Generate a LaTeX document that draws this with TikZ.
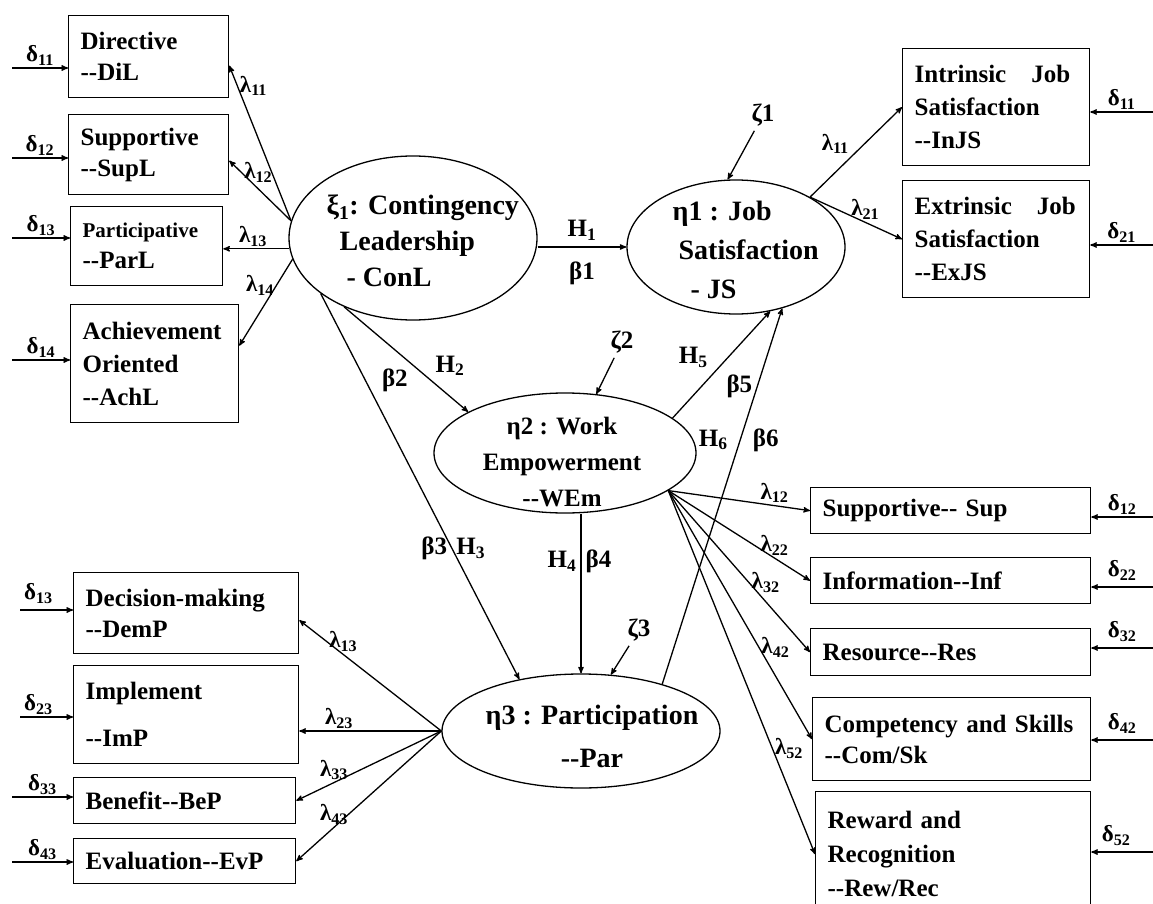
\documentclass[tikz,border=0pt]{standalone}
\usepackage{fontspec}
\setmainfont{Liberation Serif}
\usetikzlibrary{shapes.geometric, arrows}
\tikzset{
    >=stealth', % small filled arrow heads
    obs/.style={draw, rectangle, anchor=north west, align=left, inner xsep=12pt, inner ysep=0pt,
        font=\bfseries\fontsize{25}{31}\selectfont}, % observed variables
    lat/.style={draw, ellipse, inner sep=0pt}, % latent variables
    lattext/.style={inner sep=0pt}, % text inside the latent variables
    coef/.style={inner sep=2pt, font=\bfseries\fontsize{23}{23}\selectfont}, % lambda and delta labels
    hyp/.style={inner sep=4pt, font=\bfseries\fontsize{25}{25}\selectfont}, % H and beta labels
}

\begin{document}
\begin{tikzpicture}[x=1pt, y=-1pt, line width=1.3pt, ->]
    \useasboundingbox (0,0) rectangle (1153,904);

    % latent variables
    \node[lat, minimum width=248pt, minimum height=164pt] (conl) at (413,238) {};
    \node[lat, minimum width=218pt, minimum height=134pt] (js) at (736,247) {};
    \node[lat, minimum width=262pt, minimum height=120pt] (wem) at (565,453) {};
    \node[lat, minimum width=278pt, minimum height=114pt] (par) at (581,731) {};
    \node[lattext, anchor=west, align=left, font=\bfseries\fontsize{28}{36}\selectfont] (conltext) at (326,241)
        {ξ\textsubscript{1}: Contingency\\\hspace*{13pt}Leadership\\\hspace*{20pt}- ConL};
    \node[lattext, anchor=west, align=left, font=\bfseries\fontsize{28}{39}\selectfont] (jstext) at (672,250)
        {η1 : Job\\\hspace*{6pt}Satisfaction\\\hspace*{18pt}- JS};
    \node[lattext, align=center, font=\bfseries\fontsize{25}{36}\selectfont] (wemtext) at (562,462)
        {η2 : Work\\Empowerment\\-{}-WEm};
    \node[lattext, align=center, font=\bfseries\fontsize{28}{43}\selectfont] (partext) at (592,736)
        {η3 : Participation\\-{}-Par};

    % observed variables
    \node[obs, text width=136pt, minimum height=82pt] (dil) at (68,15) {Directive\\-{}-DiL};
    \node[obs, text width=136pt, minimum height=80pt] (supl) at (68,114) {Supportive\\-{}-SupL};
    \node[obs, text width=128pt, minimum height=79pt] (parl) at (70,206) {{\fontsize{21}{31}\selectfont Participative}\\-{}-ParL};
    \node[obs, text width=144pt, minimum height=118pt, font=\bfseries\fontsize{25}{33}\selectfont] (achl) at (70,304) {Achievement\\Oriented\\-{}-AchL};
    \node[obs, text width=201pt, minimum height=81pt] (demp) at (73,572) {Decision-making\\-{}-DemP};
    \node[obs, text width=201pt, minimum height=98pt] (imp) at (73,665) {Implement\\[16pt]-{}-ImP};
    \node[obs, text width=198pt, minimum height=46pt] (bep) at (73,777) {Benefit-{}-BeP};
    \node[obs, text width=198pt, minimum height=45pt] (evp) at (73,838) {Evaluation-{}-EvP};
    \node[obs, text width=163pt, minimum height=117pt, font=\bfseries\fontsize{25}{33}\selectfont] (injs) at (902,48) {Intrinsic\quad Job\\Satisfaction\\-{}-InJS};
    \node[obs, text width=163pt, minimum height=117pt, font=\bfseries\fontsize{25}{33}\selectfont] (exjs) at (902,180) {Extrinsic\quad Job\\Satisfaction\\-{}-ExJS};
    \node[obs, text width=256pt, minimum height=46pt] (sup) at (810,487) {Supportive-{}- Sup};
    \node[obs, text width=256pt, minimum height=46pt] (inf) at (810,557) {Information-{}-Inf};
    \node[obs, text width=256pt, minimum height=47pt] (res) at (810,628) {Resource-{}-Res};
    \node[obs, text width=254pt, minimum height=83pt] (com) at (812,697) {Competency and Skills\\-{}-Com/Sk};
    \node[obs, text width=251pt, minimum height=125pt, font=\bfseries\fontsize{25}{34}\selectfont] (rew) at (815,791) {Reward and\\Recognition\\-{}-Rew/Rec};

    % disturbances
    \node[hyp] (z1) at (763,115) {ζ1};
    \node[hyp] (z2) at (622,342) {ζ2};
    \node[hyp] (z3) at (639,630) {ζ3};
    \draw (z1) -- (js.97);
    \draw (z2) -- (wem.62);
    \draw (z3) -- (par.62);

    % error terms
    \coordinate (e11) at (12,68);
    \coordinate (e12) at (12,158);
    \coordinate (e13) at (12,238);
    \coordinate (e14) at (12,360);
    \coordinate (e31) at (20,610);
    \coordinate (e32) at (20,717);
    \coordinate (e33) at (12,797);
    \coordinate (e34) at (12,862);
    \coordinate (j11) at (1153,112);
    \coordinate (j21) at (1153,245);
    \coordinate (w12) at (1153,517);
    \coordinate (w22) at (1153,587);
    \coordinate (w32) at (1153,648);
    \coordinate (w42) at (1153,740);
    \coordinate (w52) at (1153,852);
    \draw (e11) -- node[coef, above]{δ\textsubscript{11}} (e11 -| dil.west);
    \draw (e12) -- node[coef, above]{δ\textsubscript{12}} (e12 -| supl.west);
    \draw (e13) -- node[coef, above]{δ\textsubscript{13}} (e13 -| parl.west);
    \draw (e14) -- node[coef, above]{δ\textsubscript{14}} (e14 -| achl.west);
    \draw (e31) -- node[coef, above=4pt, xshift=-8pt]{δ\textsubscript{13}} (e31 -| demp.west);
    \draw (e32) -- node[coef, above, xshift=-8pt]{δ\textsubscript{23}} (e32 -| imp.west);
    \draw (e33) -- node[coef, above]{δ\textsubscript{33}} (e33 -| bep.west);
    \draw (e34) -- node[coef, above]{δ\textsubscript{43}} (e34 -| evp.west);
    \draw (j11) -- node[coef, above]{δ\textsubscript{11}} (j11 -| injs.east);
    \draw (j21) -- node[coef, above]{δ\textsubscript{21}} (j21 -| exjs.east);
    \draw (w12) -- node[coef, above]{δ\textsubscript{12}} (w12 -| sup.east);
    \draw (w22) -- node[coef, above=4pt]{δ\textsubscript{22}} (w22 -| inf.east);
    \draw (w32) -- node[coef, above=4pt]{δ\textsubscript{32}} (w32 -| res.east);
    \draw (w42) -- node[coef, above=4pt]{δ\textsubscript{42}} (w42 -| com.east);
    \draw (w52) -- node[coef, above=4pt, xshift=-6pt]{δ\textsubscript{52}} (w52 -| rew.east);

    % factor loadings
    \draw (conl.172) -- node[coef, pos=0.87, right]{λ\textsubscript{11}} ([yshift=-9pt]dil.east);
    \draw (conl.172) -- node[coef, pos=0.8, right]{λ\textsubscript{12}} ([yshift=-6pt]supl.east);
    \draw (conl.185) -- node[coef, pos=0.55, above]{λ\textsubscript{13}} (conl.185 -| parl.east);
    \draw (conl.190) -- node[coef, pos=0.3, left]{λ\textsubscript{14}} ([yshift=18pt]achl.east);
    \draw (js.34) -- node[coef, pos=0.45, above left]{λ\textsubscript{11}} (injs.west);
    \draw (js.34) -- node[coef, pos=0.6, above]{λ\textsubscript{21}} (exjs.west);
    \draw (wem.-20) -- node[coef, pos=0.75, above]{λ\textsubscript{12}} (sup.west);
    \draw (wem.-20) -- node[coef, pos=0.75, above]{λ\textsubscript{22}} (inf.west);
    \draw (wem.-20) -- node[coef, pos=0.57, right]{λ\textsubscript{32}} (res.west);
    \draw (wem.-20) -- node[coef, pos=0.63, right]{λ\textsubscript{42}} (com.west);
    \draw (wem.-20) -- node[coef, pos=0.71, right]{λ\textsubscript{52}} (rew.west);
    \draw (par.west) -- node[coef, pos=0.69, above]{λ\textsubscript{13}} ([yshift=-7pt]demp.east);
    \draw (par.west) -- node[coef, pos=0.72, above]{λ\textsubscript{23}} (par.west -| imp.east);
    \draw (par.west) -- node[coef, pos=0.74, above]{λ\textsubscript{33}} (bep.east);
    \draw (par.west) -- node[coef, pos=0.74, above]{λ\textsubscript{43}} (evp.east);

    % structural paths
    \draw ([yshift=-9pt]conl.east) -- node[hyp, above=2pt]{H\textsubscript{1}} node[hyp, below=10pt]{β1} (js.west);
    \draw (conl.225) -- node[hyp, pos=0.7, above right]{H\textsubscript{2}} node[hyp, pos=0.55, below left]{β2} (wem.157);
    \draw (conl.211) -- node[hyp, pos=0.66, left]{β3} node[hyp, pos=0.66, right]{H\textsubscript{3}} (par.140);
    \draw (wem.south -| par.north) -- node[hyp, pos=0.3, left]{H\textsubscript{4}} node[hyp, pos=0.3, right]{β4} (par.north);
    \draw (wem.18) -- node[hyp, pos=0.57, left=16pt]{H\textsubscript{5}} node[hyp, pos=0.3, right=20pt]{β5} (js.-62);
    \draw (par.30) -- node[hyp, pos=0.65, left=8pt]{H\textsubscript{6}} node[hyp, pos=0.65, right=8pt]{β6} (js.-53);
\end{tikzpicture}
\end{document}
